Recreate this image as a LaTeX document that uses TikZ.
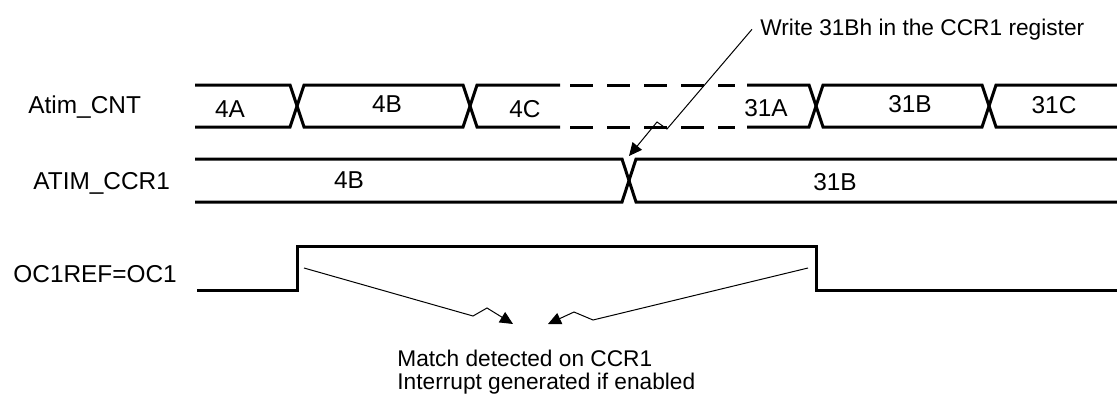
\documentclass[tikz,border=0pt]{standalone}
\usepackage{fontspec}
\setmainfont{Liberation Sans}
\usetikzlibrary{arrows.meta}

\begin{document}
\begin{tikzpicture}[
  x=0.5pt, y=-0.5pt,
  every node/.style={inner sep=0pt},
  lbl/.style={anchor=base west, font=\fontsize{12.2}{14}\selectfont},
  val/.style={font=\fontsize{12.2}{14}\selectfont},
  txt/.style={font=\fontsize{11.35}{11.5}\selectfont, align=left},
  sig/.style={line width=1.5pt},
  gap/.style={sig, dash pattern=on 11.5pt off 7pt},
  note/.style={line width=0.5pt, -{Triangle[length=6.5pt, width=6pt]}}
]
  \useasboundingbox (0,0) rectangle (1117,396);

  \node[lbl] (cntname) at (28,113) {Atim\_CNT};
  \node[lbl] (ccrname) at (33,189) {ATIM\_CCR1};
  \node[lbl] (ocname) at (13,282) {OC1REF=OC1};

  \draw[sig] (195,85) -- (290,85) -- (304,127) -- (463,127) -- (477,85) -- (560,85);
  \draw[sig] (195,127) -- (290,127) -- (304,85) -- (463,85) -- (477,127) -- (560,127);
  \draw[gap] (570,85) -- (735,85);
  \draw[gap] (570,127) -- (735,127);
  \draw[sig] (747,85) -- (809,85) -- (823,127) -- (982,127) -- (996,85) -- (1117,85);
  \draw[sig] (747,127) -- (809,127) -- (823,85) -- (982,85) -- (996,127) -- (1117,127);

  \node[val] (v4a) at (230,109) {4A};
  \node[val] (v4b) at (387,104) {4B};
  \node[val] (v4c) at (525,109) {4C};
  \node[val] (v31a) at (766,108) {31A};
  \node[val] (v31b) at (910,104) {31B};
  \node[val] (v31c) at (1054,105) {31C};

  \draw[sig] (195,159) -- (622,159) -- (636,202) -- (1117,202);
  \draw[sig] (195,202) -- (622,202) -- (636,159) -- (1117,159);
  \node[val] (c4b) at (349,180) {4B};
  \node[val] (c31b) at (835,182) {31B};

  \draw[sig] (197,290) -- (297,290) -- (297,246) -- (816,246) -- (816,290) -- (1117,290);

  \node[txt, anchor=west, inner xsep=4pt] (wnote) at (752,29.3) {Write 31Bh in the CCR1 register};
  \coordinate (wtip) at (629,156);
  \draw[note] (wnote.west) -- (667,129) -- (657,122) -- (wtip);

  \node[txt, anchor=north west] (match) at (397,350)
    {Match detected on CCR1\\Interrupt generated if enabled};
  \coordinate (riseL) at (304,268);
  \coordinate (fallR) at (808,268);
  \coordinate (tipL) at (513,324);
  \coordinate (tipR) at (548,324);
  \draw[note] (riseL) -- (473,316) -- (487,308) -- (tipL);
  \draw[note] (fallR) -- (593,320) -- (574,312) -- (tipR);
\end{tikzpicture}
\end{document}
